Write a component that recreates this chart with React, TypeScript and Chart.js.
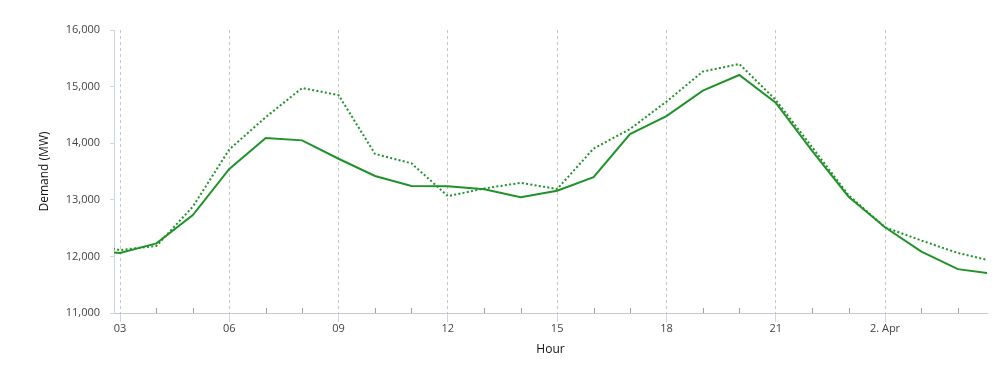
import React, { useEffect, useRef } from "react";
import { Chart, registerables } from "chart.js";

Chart.register(...registerables);

// Hours since 00:00 on 1 Apr (24 = 00:00 on 2 Apr)
const hours = [2, 3, 4, 5, 6, 7, 8, 9, 10, 11, 12, 13, 14, 15, 16, 17, 18, 19, 20, 21, 22, 23, 24, 25, 26, 27];
const actualDemand = [
  12120, 12060, 12230, 12730, 13545, 14090, 14050, 13725, 13420, 13245, 13240, 13185, 13045,
  13160, 13400, 14160, 14480, 14930, 15205, 14715, 13865, 13055, 12515, 12085, 11775, 11690,
];
const forecastDemand = [
  12260, 12110, 12185, 12880, 13890, 14460, 14975, 14850, 13810, 13645, 13065, 13200, 13300,
  13190, 13905, 14250, 14735, 15265, 15400, 14765, 13930, 13080, 12515, 12280, 12060, 11908,
];
const majorHours = [3, 6, 9, 12, 15, 18, 21, 24];
const minorHours = [4, 5, 7, 8, 10, 11, 13, 14, 16, 17, 19, 20, 22, 23, 25, 26];
const xMin = 2.835;
const xMax = 26.8;
const yMin = 11000;
const yMax = 16000;
const yStep = 1000;

const lineColor = "#20922a";
const FONT = "'Open Sans', 'Liberation Sans', Arial, sans-serif";

function hourLabel(h: number): string {
  if (h === 24) return "2. Apr";
  return String(h % 24).padStart(2, "0");
}

function formatThousands(v: number): string {
  return String(Math.round(v)).replace(/\B(?=(\d{3})+(?!\d))/g, ",");
}

const minorTickPlugin = {
  id: "minorTicks",
  afterDatasetsDraw(chart: any) {
    const xs = chart.scales.x;
    const { ctx, chartArea } = chart;
    ctx.save();
    ctx.strokeStyle = "#a0a0a0";
    ctx.lineWidth = 1;
    minorHours.forEach((h) => {
      const px = Math.round(xs.getPixelForValue(h)) + 0.5;
      ctx.beginPath();
      ctx.moveTo(px, chartArea.bottom - 5);
      ctx.lineTo(px, chartArea.bottom);
      ctx.stroke();
    });
    ctx.restore();
  },
};

export default function App() {
  const canvasRef = useRef<HTMLCanvasElement | null>(null);

  useEffect(() => {
    const canvas = canvasRef.current;
    if (!canvas) return;
    const chart = new Chart(canvas, {
      type: "line",
      data: {
        datasets: [
          {
            label: "Actual",
            data: hours.map((h, i) => ({ x: h, y: actualDemand[i] })),
            borderColor: lineColor,
            borderWidth: 2,
            pointRadius: 0,
            tension: 0,
            fill: false,
          },
          {
            label: "Forecast",
            data: hours.map((h, i) => ({ x: h, y: forecastDemand[i] })),
            borderColor: lineColor,
            borderWidth: 2,
            borderDash: [2, 2.3],
            pointRadius: 0,
            tension: 0,
            fill: false,
          },
        ],
      },
      options: {
        responsive: false,
        animation: false,
        layout: { padding: { top: 30, right: 13, left: 0, bottom: 0 } },
        plugins: {
          legend: { display: false },
          title: { display: false },
          tooltip: { enabled: false },
        },
        scales: {
          x: {
            type: "linear",
            min: xMin,
            max: xMax,
            afterBuildTicks: (scale: any) => {
              scale.ticks = majorHours.map((v) => ({ value: v }));
            },
            afterFit: (scale: any) => {
              scale.height = 52;
            },
            ticks: {
              autoSkip: false,
              maxRotation: 0,
              padding: 0,
              color: "#444444",
              font: { family: FONT, size: 11 },
              callback: (v: any) => hourLabel(Number(v)),
            },
            grid: {
              display: true,
              drawOnChartArea: true,
              drawTicks: true,
              tickLength: 9,
              color: "#c4c4c4",
              tickColor: "#ccd6eb",
              lineWidth: 1,
            },
            border: { display: true, color: "#c4c8d0", width: 1, dash: [3, 3] },
            title: {
              display: true,
              text: "Hour",
              color: "#111111",
              font: { family: FONT, size: 12 },
              padding: { top: 0, bottom: 8 },
            },
          },
          y: {
            type: "linear",
            min: yMin,
            max: yMax,
            afterFit: (scale: any) => {
              scale.width = 114;
            },
            ticks: {
              stepSize: yStep,
              padding: 10,
              color: "#444444",
              font: { family: FONT, size: 11 },
              callback: (v: any) => formatThousands(Number(v)),
            },
            grid: {
              display: true,
              drawOnChartArea: false,
              drawTicks: true,
              tickLength: 4,
              tickColor: "#ccd6eb",
            },
            border: { display: true, color: "#ccd6eb", width: 1 },
            title: {
              display: true,
              text: "Demand (MW)",
              color: "#111111",
              font: { family: FONT, size: 12 },
              padding: { top: 37, bottom: 0 },
            },
          },
        },
      },
      plugins: [minorTickPlugin],
    });
    return () => chart.destroy();
  }, []);

  return (
    <div style={{ position: "absolute", left: 0, top: 0, width: 1000, height: 365, background: "#ffffff" }}>
      <canvas ref={canvasRef} width={1000} height={365} style={{ display: "block" }} />
    </div>
  );
}
